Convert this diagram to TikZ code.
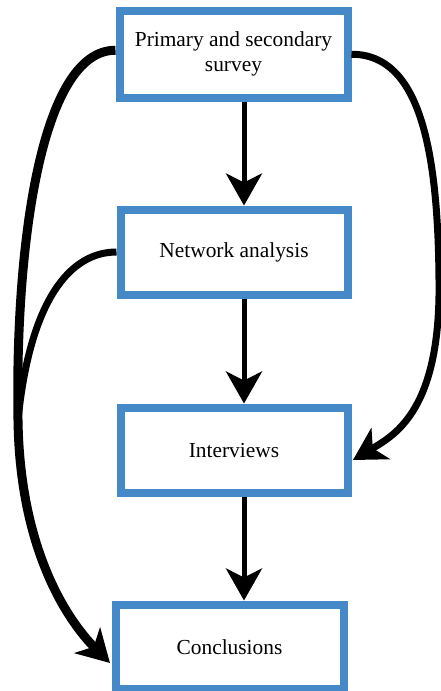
\documentclass[tikz,border=0pt]{standalone}
\usepackage{fontspec}
\setmainfont{Liberation Serif}
\usetikzlibrary{arrows.meta}
\definecolor{boxblue}{RGB}{70,137,200}
\tikzset{
  box/.style={draw=boxblue, line width=8pt, fill=white, inner sep=0pt,
    align=center, font=\fontsize{21.4}{25}\selectfont},
  arr/.style={line width=5pt, -{Stealth[length=32pt,width=36pt,inset=9pt]}},
  carr/.style={-{Stealth[length=32pt,width=36pt,inset=9pt]}},
}
\begin{document}
\begin{tikzpicture}[x=1pt,y=-1pt]
\useasboundingbox (0,0) rectangle (440,691);
\node[box, minimum width=228pt, minimum height=86.5pt] (p1) at (233.5,54.25) {Primary and secondary\\survey};
\node[box, minimum width=227pt, minimum height=85pt] (p2) at (234,252) {Network analysis};
\node[box, minimum width=227pt, minimum height=85.5pt] (p3) at (234,450.25) {Interviews};
\node[box, minimum width=228pt, minimum height=84.5pt] (p4) at (229.5,646.75) {Conclusions};
\coordinate (ax) at (244,0);
\coordinate (m) at (18,420);
\coordinate (lt) at (110,663);
\coordinate (rt) at (353,460);
\draw[arr] (p1.south -| ax) -- (p2.north -| ax);
\draw[arr] (p2.south -| ax) -- (p3.north -| ax);
\draw[arr] (p3.south -| ax) -- (p4.north -| ax);
% left long curve
\draw[carr, line width=9pt] ([yshift=4pt]p1.west) .. controls (40,50) and (15,250) .. (m)
  .. controls (20,560) and (75,628) .. (lt);
% network analysis to merge
\draw[line width=7pt] (p2.west) .. controls (70,252) and (30,300) .. (m);
% right curve
\draw[carr, line width=7pt] (p1.east) .. controls (420,54) and (438,150) .. (439,280)
  .. controls (441,410) and (395,435) .. (rt);
\end{tikzpicture}
\end{document}
